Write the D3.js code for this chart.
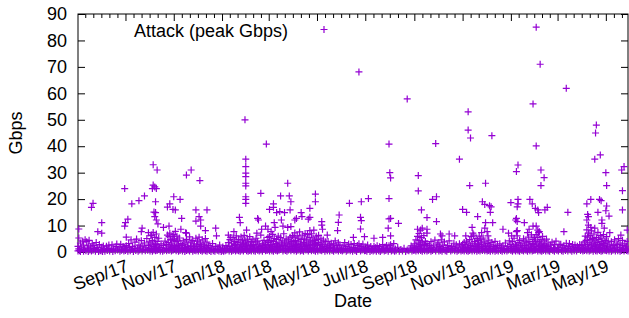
<!DOCTYPE html>
<html>
<head>
<meta charset="utf-8">
<script src="https://cdn.jsdelivr.net/npm/d3@7"></script>
<style>
  body { margin: 0; background: #fff; }
  svg { display: block; font-family: "Liberation Sans", Arial, sans-serif; }
</style>
</head>
<body>
<div id="chart"></div>
<script>
// every row is [month, day, peak Gbps]

// the bulk of small attacks near the bottom
const low2017 = [
  [7,3,0.4],[7,3,2.1],[7,4,1.2],[7,4,5.3],[7,5,0.6],[7,6,3.4],[7,6,0.2],[7,7,1.8],[7,8,0.9],[7,9,4.1],[7,10,0.3],[7,10,2.6],[7,11,1.1],[7,12,4.6],[7,13,0.5],[7,14,3.9],[7,15,1.5],[7,16,0.2],[7,16,2.3],[7,17,4.4],[7,18,0.8],[7,19,1.9],[7,20,0.4],[7,21,3.1],[7,22,0.7],[7,23,2.4],[7,24,1.3],[7,25,0.3],[7,26,3.6],[7,27,0.9],[7,28,1.7],[7,29,0.2],[7,30,2.8],[7,31,0.6],
  [8,1,0.5],[8,2,1.8],[8,3,0.2],[8,4,2.3],[8,5,1.0],[8,6,0.3],[8,8,2.2],[8,9,0.6],[8,10,1.4],[8,11,2.6],[8,12,0.4],[8,14,0.9],[8,15,2.7],[8,16,0.2],[8,17,1.2],[8,19,0.5],[8,20,2.0],[8,21,3.0],[8,22,0.8],[8,24,1.6],[8,25,0.3],[8,26,2.9],[8,27,0.7],[8,28,1.1],[8,29,2.1],[8,30,0.4],[8,31,1.9],
  [9,1,0.6],[9,2,2.4],[9,2,5.6],[9,3,1.1],[9,4,0.3],[9,5,3.2],[9,6,1.7],[9,7,0.5],[9,8,4.6],[9,9,0.9],[9,10,2.1],[9,11,0.2],[9,12,1.3],[9,13,3.7],[9,14,0.6],[9,15,4.9],[9,16,1.5],[9,17,0.3],[9,18,2.6],[9,19,0.8],[9,20,1.9],[9,21,4.3],[9,22,0.4],[9,23,2.2],[9,24,1.0],[9,25,3.4],[9,26,0.5],[9,27,1.6],[9,28,5.1],[9,29,0.7],[9,30,2.5],
  [10,1,1.2],[10,1,3.8],[10,2,0.4],[10,3,2.7],[10,3,6.2],[10,4,1.0],[10,5,4.4],[10,5,0.3],[10,6,2.1],[10,6,7.4],[10,7,0.8],[10,7,3.3],[10,8,5.5],[10,8,1.6],[10,9,0.5],[10,9,2.9],[10,10,6.8],[10,10,1.3],[10,11,0.6],[10,11,4.0],[10,12,2.3],[10,13,0.9],[10,13,5.2],[10,14,1.7],[10,15,0.4],[10,16,3.1],[10,17,1.1],[10,18,0.3],[10,19,2.5],[10,20,0.7],[10,21,4.1],[10,22,1.4],[10,23,0.5],[10,23,2.8],[10,24,6.4],[10,25,1.0],[10,25,3.6],[10,26,5.8],[10,26,0.6],[10,27,2.2],[10,27,7.1],[10,28,1.5],[10,28,4.7],[10,29,0.4],[10,29,3.0],[10,30,5.9],[10,30,1.8],[10,31,0.7],[10,31,4.3],
  [11,1,0.9],[11,1,6.6],[11,2,2.4],[11,2,5.0],[11,3,1.2],[11,3,7.8],[11,4,0.5],[11,4,3.9],[11,5,2.0],[11,5,6.0],[11,6,1.1],[11,6,4.5],[11,7,0.3],[11,7,2.7],[11,8,1.6],[11,8,5.3],[11,9,0.6],[11,10,3.2],[11,11,1.4],[11,12,0.4],[11,12,2.5],[11,13,4.2],[11,14,1.0],[11,15,0.2],[11,15,3.0],[11,16,1.7],[11,17,0.6],[11,17,4.8],[11,18,2.1],[11,19,0.8],[11,19,3.5],[11,20,1.3],[11,21,0.4],[11,21,5.7],[11,22,2.3],[11,23,0.9],[11,23,3.8],[11,24,1.5],[11,25,0.3],[11,25,4.4],[11,26,2.0],[11,27,0.7],[11,27,3.1],[11,28,1.2],[11,29,0.5],[11,29,5.2],[11,30,2.6],
  [12,1,1.0],[12,1,4.1],[12,2,0.4],[12,3,2.8],[12,3,5.6],[12,4,1.3],[12,5,0.6],[12,5,3.4],[12,6,2.0],[12,7,0.3],[12,7,4.6],[12,8,1.5],[12,9,0.8],[12,9,3.0],[12,10,2.2],[12,11,0.5],[12,11,5.1],[12,12,1.6],[12,13,0.3],[12,13,3.7],[12,14,1.1],[12,15,2.4],[12,16,0.6],[12,17,1.8],[12,18,0.2],[12,19,1.2],[12,20,3.2],[12,21,0.5],[12,22,1.0],[12,23,0.3],[12,24,2.1],[12,26,0.7],[12,27,1.5],[12,28,0.4],[12,29,2.6],[12,30,0.9],[12,31,0.2]
];

const low2018 = [
  [1,1,0.6],[1,2,1.9],[1,3,0.3],[1,4,1.2],[1,5,0.5],[1,6,2.4],[1,7,0.8],[1,8,1.4],[1,9,3.6],[1,10,0.4],[1,10,2.0],[1,11,4.7],[1,12,1.1],[1,13,0.3],[1,13,3.3],[1,14,1.8],[1,15,0.6],[1,15,5.4],[1,16,2.5],[1,17,1.0],[1,17,4.0],[1,18,0.4],[1,18,2.9],[1,19,6.1],[1,19,1.4],[1,20,0.7],[1,20,3.6],[1,21,2.2],[1,22,0.5],[1,22,4.8],[1,23,1.6],[1,24,0.3],[1,24,3.0],[1,25,1.9],[1,25,5.7],[1,26,0.8],[1,26,2.6],[1,27,4.2],[1,27,1.2],[1,28,0.4],[1,28,3.4],[1,29,2.0],[1,29,6.3],[1,30,0.9],[1,30,4.5],[1,31,1.5],[1,31,3.1],
  [2,1,0.5],[2,1,2.7],[2,2,4.9],[2,2,1.3],[2,3,0.3],[2,3,3.5],[2,4,1.9],[2,5,0.6],[2,5,5.8],[2,6,2.4],[2,6,1.0],[2,7,3.9],[2,7,0.4],[2,8,2.1],[2,9,1.3],[2,9,4.6],[2,10,0.5],[2,10,2.8],[2,11,1.6],[2,12,0.3],[2,12,3.7],[2,13,1.1],[2,13,5.2],[2,14,2.3],[2,15,0.7],[2,15,4.1],[2,16,1.5],[2,17,0.4],[2,17,3.0],[2,18,2.0],[2,19,0.8],[2,19,6.4],[2,20,1.4],[2,21,0.3],[2,21,3.3],[2,22,2.5],[2,23,0.9],[2,23,4.4],[2,24,1.7],[2,25,0.5],[2,25,2.9],[2,26,1.2],[2,27,3.8],[2,27,0.6],[2,28,2.2],[2,28,5.5],
  [3,1,1.0],[3,1,3.6],[3,2,0.4],[3,2,5.9],[3,3,2.3],[3,4,1.2],[3,4,4.4],[3,5,0.5],[3,5,2.8],[3,6,6.7],[3,6,1.6],[3,7,0.3],[3,7,3.9],[3,8,2.1],[3,8,5.1],[3,9,1.0],[3,10,0.6],[3,10,3.2],[3,11,4.8],[3,11,1.8],[3,12,0.4],[3,12,2.6],[3,13,6.0],[3,13,1.2],[3,14,3.5],[3,14,0.7],[3,15,2.0],[3,16,5.4],[3,16,0.9],[3,17,3.0],[3,18,1.5],[3,18,4.2],[3,19,0.4],[3,19,2.4],[3,20,6.9],[3,20,1.1],[3,21,3.7],[3,22,0.6],[3,22,2.2],[3,23,5.0],[3,23,1.4],[3,24,0.3],[3,24,3.3],[3,25,1.9],[3,26,4.6],[3,26,0.8],[3,27,2.7],[3,28,1.3],[3,28,5.6],[3,29,0.5],[3,29,3.1],[3,30,2.0],[3,30,4.0],[3,31,0.9],[3,31,6.2],
  [4,1,1.4],[4,1,3.5],[4,2,0.5],[4,2,5.6],[4,3,2.4],[4,3,7.2],[4,4,1.0],[4,4,4.3],[4,5,0.3],[4,5,2.9],[4,6,6.1],[4,6,1.7],[4,7,0.7],[4,7,3.8],[4,8,2.2],[4,8,5.2],[4,9,1.2],[4,9,7.6],[4,10,0.4],[4,10,3.1],[4,11,4.7],[4,11,1.9],[4,12,0.6],[4,12,2.7],[4,13,6.4],[4,13,1.1],[4,14,3.6],[4,14,0.3],[4,15,2.1],[4,15,5.0],[4,16,1.5],[4,16,7.0],[4,17,0.8],[4,17,3.4],[4,18,4.6],[4,18,2.5],[4,19,1.0],[4,19,6.6],[4,20,0.4],[4,20,3.0],[4,21,1.8],[4,21,5.5],[4,22,0.9],[4,22,2.6],[4,23,4.1],[4,23,1.3],[4,24,0.5],[4,24,6.9],[4,25,2.3],[4,25,3.7],[4,26,1.1],[4,26,5.3],[4,27,0.6],[4,27,2.8],[4,28,4.4],[4,28,1.6],[4,29,0.3],[4,29,3.2],[4,30,6.0],[4,30,1.2],
  [5,1,1.0],[5,1,4.8],[5,2,2.5],[5,2,0.4],[5,3,3.6],[5,3,6.3],[5,4,1.4],[5,5,0.7],[5,5,2.9],[5,6,5.2],[5,6,1.2],[5,7,0.5],[5,7,3.4],[5,8,2.0],[5,9,0.9],[5,9,4.5],[5,10,1.6],[5,11,0.3],[5,11,2.7],[5,12,3.9],[5,13,1.1],[5,14,0.5],[5,14,2.2],[5,15,4.0],[5,16,1.3],[5,17,0.4],[5,17,2.6],[5,18,1.7],[5,19,3.3],[5,20,0.6],[5,21,1.9],[5,22,0.3],[5,22,3.0],[5,23,1.2],[5,24,4.2],[5,25,0.7],[5,26,2.4],[5,27,1.0],[5,28,0.4],[5,28,3.5],[5,29,1.5],[5,30,2.7],[5,31,0.6],
  [6,1,1.1],[6,2,0.4],[6,3,2.3],[6,4,0.8],[6,5,3.6],[6,6,1.4],[6,7,0.3],[6,8,2.0],[6,9,0.7],[6,10,3.0],[6,11,1.2],[6,12,0.5],[6,13,2.8],[6,14,1.0],[6,15,0.3],[6,16,1.7],[6,17,3.2],[6,18,0.6],[6,19,1.3],[6,20,0.2],[6,21,2.5],[6,22,0.9],[6,23,3.1],[6,24,1.5],[6,25,0.4],[6,26,2.1],[6,27,0.8],[6,28,3.0],[6,29,1.2],[6,30,0.5],
  [7,1,0.6],[7,2,1.8],[7,3,0.3],[7,4,2.6],[7,5,0.9],[7,6,1.4],[7,7,0.2],[7,8,2.1],[7,9,0.7],[7,10,1.2],[7,11,0.4],[7,12,2.2],[7,13,0.8],[7,14,1.6],[7,15,0.3],[7,16,2.4],[7,17,1.0],[7,18,0.5],[7,19,2.0],[7,20,0.2],[7,21,1.3],[7,22,0.7],[7,23,2.8],[7,24,1.1],[7,25,0.4],[7,26,1.9],[7,27,0.6],[7,28,2.5],[7,29,1.3],[7,30,0.3],[7,31,2.4],
  [8,1,1.0],[8,2,2.7],[8,3,0.4],[8,4,1.5],[8,5,0.7],[8,6,3.2],[8,7,0.3],[8,8,1.1],[8,9,0.5],[8,11,1.8],[8,13,0.3],[8,15,0.9],[8,17,0.4],[8,19,1.4],[8,21,0.2],[8,23,0.8],[8,25,0.5],[8,27,1.2],[8,28,2.3],[8,29,0.4],[8,30,1.6],[8,31,0.7],
  [9,1,0.8],[9,1,3.1],[9,2,1.5],[9,3,0.4],[9,3,4.6],[9,4,2.2],[9,5,1.0],[9,5,5.9],[9,6,0.5],[9,6,3.4],[9,7,2.0],[9,7,7.0],[9,8,1.2],[9,8,4.3],[9,9,0.6],[9,9,2.8],[9,10,5.4],[9,10,1.5],[9,11,0.3],[9,11,3.7],[9,12,2.4],[9,13,1.0],[9,13,6.2],[9,14,0.5],[9,14,2.9],[9,15,4.0],[9,16,1.3],[9,17,0.4],[9,17,3.2],[9,18,1.9],[9,19,0.7],[9,20,2.5],[9,21,1.1],[9,22,0.3],[9,22,3.9],[9,23,1.6],[9,24,0.6],[9,25,2.3],[9,26,1.0],[9,27,4.5],[9,28,0.4],[9,29,1.8],[9,30,3.0],
  [10,1,1.2],[10,2,0.4],[10,2,3.5],[10,3,2.0],[10,4,0.7],[10,5,4.6],[10,5,1.3],[10,6,0.3],[10,7,2.6],[10,8,1.0],[10,9,3.8],[10,10,0.5],[10,11,1.7],[10,12,0.3],[10,13,2.4],[10,14,0.9],[10,15,4.2],[10,16,1.4],[10,17,0.4],[10,18,2.1],[10,19,0.8],[10,20,1.5],[10,21,3.3],[10,22,0.5],[10,23,1.2],[10,24,2.7],[10,25,0.3],[10,26,1.8],[10,27,0.7],[10,28,3.1],[10,29,1.1],[10,30,0.4],[10,31,2.3],
  [11,1,0.7],[11,1,2.9],[11,2,1.5],[11,3,0.4],[11,3,3.6],[11,4,1.1],[11,5,2.2],[11,6,0.5],[11,6,4.1],[11,7,1.7],[11,8,0.3],[11,8,3.0],[11,9,1.3],[11,10,4.7],[11,10,0.6],[11,11,2.4],[11,12,1.0],[11,12,5.8],[11,13,0.4],[11,13,3.3],[11,14,2.0],[11,15,6.4],[11,15,1.2],[11,16,0.5],[11,16,3.9],[11,17,2.6],[11,18,1.0],[11,18,5.1],[11,19,0.3],[11,19,2.2],[11,20,4.4],[11,20,1.5],[11,21,0.7],[11,21,3.1],[11,22,6.0],[11,22,1.9],[11,23,0.4],[11,23,2.8],[11,24,4.9],[11,25,1.2],[11,25,3.5],[11,26,0.6],[11,27,2.1],[11,27,5.3],[11,28,1.4],[11,29,0.5],[11,29,3.8],[11,30,2.3],
  [12,1,1.0],[12,2,0.4],[12,2,3.2],[12,3,2.0],[12,4,0.6],[12,4,4.5],[12,5,1.4],[12,6,0.3],[12,6,2.7],[12,7,1.1],[12,8,3.6],[12,9,0.5],[12,10,2.0],[12,11,1.2],[12,12,0.3],[12,12,4.0],[12,13,1.6],[12,14,0.7],[12,15,2.5],[12,16,0.4],[12,17,1.4],[12,18,3.1],[12,19,0.6],[12,20,1.8],[12,21,0.3],[12,22,2.3],[12,23,1.0],[12,24,0.5],[12,25,3.4],[12,26,1.3],[12,27,0.4],[12,28,2.1],[12,29,0.8],[12,30,4.2],[12,31,1.5]
];

const low2019 = [
  [1,1,0.6],[1,1,2.8],[1,2,1.4],[1,3,0.3],[1,3,3.9],[1,4,2.1],[1,5,0.8],[1,5,5.2],[1,6,1.5],[1,7,0.4],[1,7,3.0],[1,8,2.3],[1,9,1.0],[1,9,6.1],[1,10,0.5],[1,10,3.6],[1,11,1.8],[1,12,0.3],[1,12,4.4],[1,13,2.6],[1,14,1.1],[1,15,0.6],[1,15,3.3],[1,16,1.9],[1,17,5.0],[1,17,0.4],[1,18,2.4],[1,19,1.2],[1,19,4.1],[1,20,0.7],[1,21,3.5],[1,21,1.6],[1,22,0.3],[1,23,2.7],[1,23,5.6],[1,24,1.0],[1,25,3.9],[1,25,0.5],[1,26,2.2],[1,27,6.5],[1,27,1.3],[1,28,0.4],[1,28,3.2],[1,29,4.8],[1,29,1.8],[1,30,0.6],[1,30,2.9],[1,31,5.4],[1,31,1.1],
  [2,1,0.8],[2,1,4.0],[2,2,2.3],[2,2,6.6],[2,3,1.2],[2,3,3.4],[2,4,0.4],[2,4,5.5],[2,5,2.0],[2,5,7.3],[2,6,1.0],[2,6,3.8],[2,7,0.5],[2,7,2.6],[2,8,4.7],[2,8,1.4],[2,9,0.3],[2,9,3.1],[2,10,5.9],[2,10,1.7],[2,11,0.6],[2,11,2.4],[2,12,4.2],[2,13,1.1],[2,13,3.0],[2,14,0.4],[2,15,2.1],[2,15,4.9],[2,16,1.3],[2,17,0.5],[2,17,3.4],[2,18,1.8],[2,19,0.3],[2,20,2.6],[2,21,1.0],[2,22,3.7],[2,23,0.6],[2,24,1.5],[2,25,0.3],[2,25,2.9],[2,26,1.2],[2,27,4.1],[2,28,0.7],
  [3,1,1.6],[3,2,0.4],[3,3,2.7],[3,4,1.0],[3,5,2.9],[3,6,0.5],[3,7,1.8],[3,8,0.3],[3,9,2.4],[3,10,1.2],[3,11,0.6],[3,12,3.3],[3,13,1.4],[3,14,0.4],[3,15,2.0],[3,16,3.2],[3,17,0.8],[3,18,1.5],[3,19,0.3],[3,20,2.8],[3,21,1.1],[3,22,0.5],[3,23,2.6],[3,24,1.7],[3,25,0.4],[3,26,2.2],[3,27,0.9],[3,28,1.4],[3,29,2.8],[3,30,0.6],[3,31,2.5],
  [4,1,1.0],[4,2,0.4],[4,2,2.6],[4,3,1.5],[4,4,0.6],[4,4,3.8],[4,5,2.2],[4,5,6.0],[4,6,1.0],[4,6,4.4],[4,7,0.5],[4,7,8.4],[4,8,2.9],[4,8,5.6],[4,9,1.3],[4,9,7.1],[4,10,0.4],[4,10,3.5],[4,11,6.3],[4,11,1.8],[4,12,4.7],[4,12,0.7],[4,13,2.6],[4,13,8.0],[4,14,1.2],[4,14,5.1],[4,15,0.3],[4,15,3.3],[4,16,6.8],[4,16,2.0],[4,17,1.1],[4,17,4.2],[4,18,0.5],[4,18,2.7],[4,19,5.4],[4,19,1.5],[4,20,0.4],[4,20,3.6],[4,21,2.2],[4,21,7.4],[4,22,1.0],[4,22,4.8],[4,23,0.6],[4,23,2.9],[4,24,6.2],[4,24,1.7],[4,25,0.3],[4,25,3.9],[4,26,2.4],[4,26,5.0],[4,27,1.2],[4,27,0.5],[4,28,3.2],[4,28,6.6],[4,29,1.4],[4,29,2.5],[4,30,0.6],[4,30,4.3],
  [5,1,1.1],[5,1,3.5],[5,2,0.5],[5,2,5.8],[5,3,2.2],[5,4,1.0],[5,4,4.1],[5,5,0.4],[5,6,2.7],[5,7,1.5],[5,8,0.3],[5,8,3.9],[5,9,1.9],[5,10,0.7],[5,11,2.4],[5,12,4.6],[5,12,1.2],[5,13,0.4],[5,14,3.0],[5,15,1.6],[5,16,0.5],[5,16,2.8],[5,17,5.1],[5,18,1.0],[5,19,0.3],[5,19,3.4],[5,20,1.8],[5,21,0.6],[5,22,2.5],[5,22,4.4],[5,23,1.2],[5,24,0.4],[5,25,3.1],[5,26,1.5],[5,27,0.6],[5,27,2.2],[5,28,4.0],[5,28,1.0],[5,29,0.4]
];

// the larger attacks standing out above the band
const spikes2017 = [
  [7,4,8.7],[7,20,16.9],[7,22,18.4],[7,28,7.7],[8,2,11.1],[8,2,7.1],[8,31,24.0],[8,31,9.8],[9,1,11.1],[9,4,12.4],[9,9,18.2],[9,18,19.4],[9,21,7.7],[9,22,9.0],[9,25,21.2],[9,30,7.3],
  [10,4,6.4],[10,6,33.0],[10,11,31.0],[10,6,25.3],[10,8,24.6],[10,5,24.0],[10,10,24.0],[10,9,19.0],[10,7,15.1],[10,9,14.9],[10,8,13.4],[10,10,12.1],[10,12,10.6],[10,19,9.3],[10,24,17.0],[10,27,18.2],[10,26,9.8],[10,31,16.1],
  [11,1,20.9],[11,3,15.9],[11,9,19.9],[11,11,12.7],[11,10,8.6],[11,16,7.3],[11,17,29.1],[11,17,7.1],[11,23,31.0],[11,29,15.9],[11,29,11.7],
  [12,3,13.4],[12,4,27.0],[12,5,12.1],[12,5,9.8],[12,11,8.1],[12,13,15.9],[12,24,9.0],[12,25,6.1]
];

const spikes2018 = [
  [1,9,6.4],[1,12,5.5],[1,16,7.7],[1,23,13.1],[1,24,11.1],[1,30,50.0],[1,31,35.1],[1,31,32.3],[1,31,29.8],[1,31,28.5],[1,31,26.0],[1,31,25.0],[1,31,20.9],[1,31,19.9],[1,31,18.4],
  [2,1,8.3],[2,14,7.1],[2,15,12.7],[2,16,12.1],[2,19,22.2],[2,20,8.6],[2,25,9.8],[2,26,40.8],[2,28,8.6],
  [3,2,16.1],[3,4,7.7],[3,7,16.9],[3,7,18.2],[3,8,11.1],[3,9,9.3],[3,11,14.9],[3,15,15.3],[3,16,21.2],[3,17,12.1],[3,19,9.8],[3,21,14.9],[3,25,26.0],[3,25,9.3],[3,27,21.2],[3,28,15.9],[3,29,19.0],[3,29,9.6],
  [4,3,12.1],[4,5,12.7],[4,11,14.9],[4,12,13.4],[4,20,12.4],[4,22,13.1],[4,22,16.5],[4,22,8.1],[4,27,8.3],[4,29,21.9],[4,29,19.0],
  [5,7,11.5],[5,7,10.2],[5,8,8.6],[5,14,6.4],[5,27,8.1],[5,28,11.2],[5,29,14.0],
  [6,11,18.4],[6,16,5.5],[6,23,68.1],[6,25,13.1],[6,25,8.7],[6,26,19.0],[6,26,11.9],[6,30,5.8],
  [7,5,20.2],[7,12,5.2],[7,23,5.5],[7,30,9.0],[7,31,40.8],[7,31,20.2],[7,31,12.5],
  [8,1,30.0],[8,2,28.0],[8,2,12.7],[8,2,6.1],[8,12,10.8],[8,23,57.9],
  [9,5,8.6],[9,6,28.9],[9,6,23.1],[9,9,8.3],[9,10,15.9],[9,11,9.0],[9,17,13.0],[9,17,8.6],[9,17,7.1],[9,24,19.9],[9,28,41.0],[9,29,20.9],[9,29,11.5],
  [10,4,6.8],[10,6,6.1],[10,15,6.8],[10,22,6.1],[10,28,35.1],
  [11,1,16.1],[11,5,6.1],[11,6,15.0],[11,8,53.0],[11,8,46.1],[11,10,25.1],[11,11,43.1],[11,13,9.3],[11,14,7.1],[11,20,13.4],[11,25,7.3],[11,26,19.0],[11,29,18.0],[11,29,9.0],[11,30,26.0],[11,30,11.1],
  [12,2,7.7],[12,3,6.1],[12,5,17.5],[12,6,15.0],[12,7,17.1],[12,8,44.0],[12,9,11.1],[12,22,8.6],[12,29,7.1]
];

const spikes2019 = [
  [1,1,18.7],[1,2,6.1],[1,7,12.1],[1,8,30.4],[1,8,12.7],[1,8,7.7],[1,9,17.1],[1,9,11.5],[1,9,8.1],[1,10,32.9],[1,10,19.9],[1,10,18.2],[1,18,11.1],[1,22,7.3],[1,24,8.6],[1,25,19.9],[1,28,18.2],[1,29,56.0],[1,29,9.8],
  [2,1,16.5],[2,2,85.0],[2,2,40.1],[2,2,9.8],[2,4,15.9],[2,4,8.3],[2,5,14.9],[2,6,7.7],[2,7,71.0],[2,8,31.0],[2,8,25.1],[2,12,28.1],[2,13,15.9],[2,16,16.9],
  [3,9,7.7],[3,12,61.9],[3,14,15.0],
  [4,7,18.2],[4,7,12.1],[4,8,14.2],[4,9,13.4],[4,9,10.2],[4,12,19.9],[4,12,9.3],[4,17,35.1],[4,17,9.0],[4,18,45.0],[4,19,48.0],[4,21,15.0],[4,23,19.9],[4,24,36.7],[4,25,19.4],[4,26,12.1],[4,26,10.8],[4,29,9.0],
  [5,1,30.0],[5,1,15.6],[5,2,25.1],[5,2,17.4],[5,5,13.6],[5,6,7.3],[5,20,6.4],[5,21,31.0],[5,22,23.2],[5,22,15.9],[5,24,32.3],[5,28,8.3]
];

const yTicks = [0, 10, 20, 30, 40, 50, 60, 70, 80, 90];
const xTickDates = ["2017-09-01", "2017-11-01", "2018-01-01", "2018-03-01", "2018-05-01", "2018-07-01",
  "2018-09-01", "2018-11-01", "2019-01-01", "2019-03-01", "2019-05-01"];
const xTickLabels = ["Sep/17", "Nov/17", "Jan/18", "Mar/18", "May/18", "Jul/18",
  "Sep/18", "Nov/18", "Jan/19", "Mar/19", "May/19"];
const seriesName = "Attack (peak Gbps)";

const width = 629,
  height = 318,
  margin = { top: 14, right: 1, bottom: 66, left: 78 };

const color = "#9400d3";
const plus = "M-3.5,0H3.5M0,-3.5V3.5";
const fontSize = "18px";

function rows(year, list) {
  return list.map(r => ({ date: new Date(year, r[0] - 1, r[1]), gbps: r[2] }));
}

const data = [].concat(
  rows(2017, low2017), rows(2017, spikes2017),
  rows(2018, low2018), rows(2018, spikes2018),
  rows(2019, low2019), rows(2019, spikes2019)
);

const parse = d3.timeParse("%Y-%m-%d");
const majorDates = xTickDates.map(parse);

const xScale = d3.scaleTime()
  .domain([new Date(2017, 6, 3), new Date(2019, 4, 29)])
  .range([margin.left, width - margin.right]);

const yScale = d3.scaleLinear()
  .domain([0, 90])
  .range([height - margin.bottom, margin.top]);

// minor tics: six steps between major tics, continued out to the edges
const minorDates = [];
for (let i = 0; i < majorDates.length - 1; i++) {
  const a = +majorDates[i], b = +majorDates[i + 1];
  for (let k = 1; k < 6; k++) minorDates.push(new Date(a + (b - a) * k / 6));
}
{
  const [d0, d1] = xScale.domain();
  const stepA = (majorDates[1] - majorDates[0]) / 6;
  for (let t = +majorDates[0] - stepA; t > +d0; t -= stepA) minorDates.push(new Date(t));
  const n = majorDates.length;
  const stepB = (majorDates[n - 1] - majorDates[n - 2]) / 6;
  for (let t = +majorDates[n - 1] + stepB; t < +d1; t += stepB) minorDates.push(new Date(t));
}

const svg = d3.select("#chart")
  .append("svg")
  .attr("width", width)
  .attr("height", height);

const x0 = margin.left, x1 = width - margin.right;
const y0 = height - margin.bottom, y1 = margin.top;

function tickAxis(axis, transform) {
  const g = svg.append("g")
    .attr("transform", transform)
    .call(axis);
  g.select(".domain").remove();
  g.selectAll("line").attr("stroke", "#000").attr("stroke-width", 1);
  return g;
}

// major and minor tics on all four sides, pointing inwards
tickAxis(d3.axisBottom(xScale).tickValues(majorDates).tickSize(-7).tickFormat(""), `translate(0,${y0})`);
tickAxis(d3.axisBottom(xScale).tickValues(minorDates).tickSize(-4).tickFormat(""), `translate(0,${y0})`);
tickAxis(d3.axisTop(xScale).tickValues(majorDates).tickSize(-7).tickFormat(""), `translate(0,${y1})`);
tickAxis(d3.axisTop(xScale).tickValues(minorDates).tickSize(-4).tickFormat(""), `translate(0,${y1})`);
tickAxis(d3.axisRight(yScale).tickValues(yTicks).tickSize(-7).tickFormat(""), `translate(${x1},0)`);

const yAxis = tickAxis(d3.axisLeft(yScale).tickValues(yTicks).tickSize(-7).tickPadding(11), `translate(${x0},0)`);
yAxis.selectAll("text")
  .attr("fill", "#000")
  .style("font-family", "'Liberation Sans', Arial, sans-serif")
  .style("font-size", fontSize);

// rotated date labels under the bottom axis
svg.append("g")
  .selectAll("text")
  .data(majorDates)
  .join("text")
  .attr("transform", d => `translate(${xScale(d) + 2},${y0 + 13}) rotate(-20)`)
  .attr("text-anchor", "end")
  .attr("dy", "0.35em")
  .style("font-size", fontSize)
  .text((d, i) => xTickLabels[i]);

// border
svg.append("rect")
  .attr("x", x0)
  .attr("y", y1)
  .attr("width", x1 - x0)
  .attr("height", y0 - y1)
  .attr("fill", "none")
  .attr("stroke", "#000")
  .attr("stroke-width", 1);

// points
svg.append("g")
  .attr("stroke", color)
  .attr("stroke-width", 1.2)
  .attr("fill", "none")
  .selectAll("path")
  .data(data)
  .join("path")
  .attr("transform", d => `translate(${xScale(d.date)},${yScale(d.gbps)})`)
  .attr("d", plus);

// key
svg.append("text")
  .attr("x", 288)
  .attr("y", 37)
  .attr("text-anchor", "end")
  .style("font-size", fontSize)
  .text(seriesName);
svg.append("path")
  .attr("transform", "translate(324,29.5)")
  .attr("d", plus)
  .attr("stroke", color)
  .attr("stroke-width", 1.2);

// axis titles
svg.append("text")
  .attr("x", (x0 + x1) / 2)
  .attr("y", 307)
  .attr("text-anchor", "middle")
  .style("font-size", fontSize)
  .text("Date");

svg.append("text")
  .attr("transform", `translate(22,${(y0 + y1) / 2}) rotate(-90)`)
  .attr("text-anchor", "middle")
  .style("font-size", fontSize)
  .text("Gbps");
</script>
